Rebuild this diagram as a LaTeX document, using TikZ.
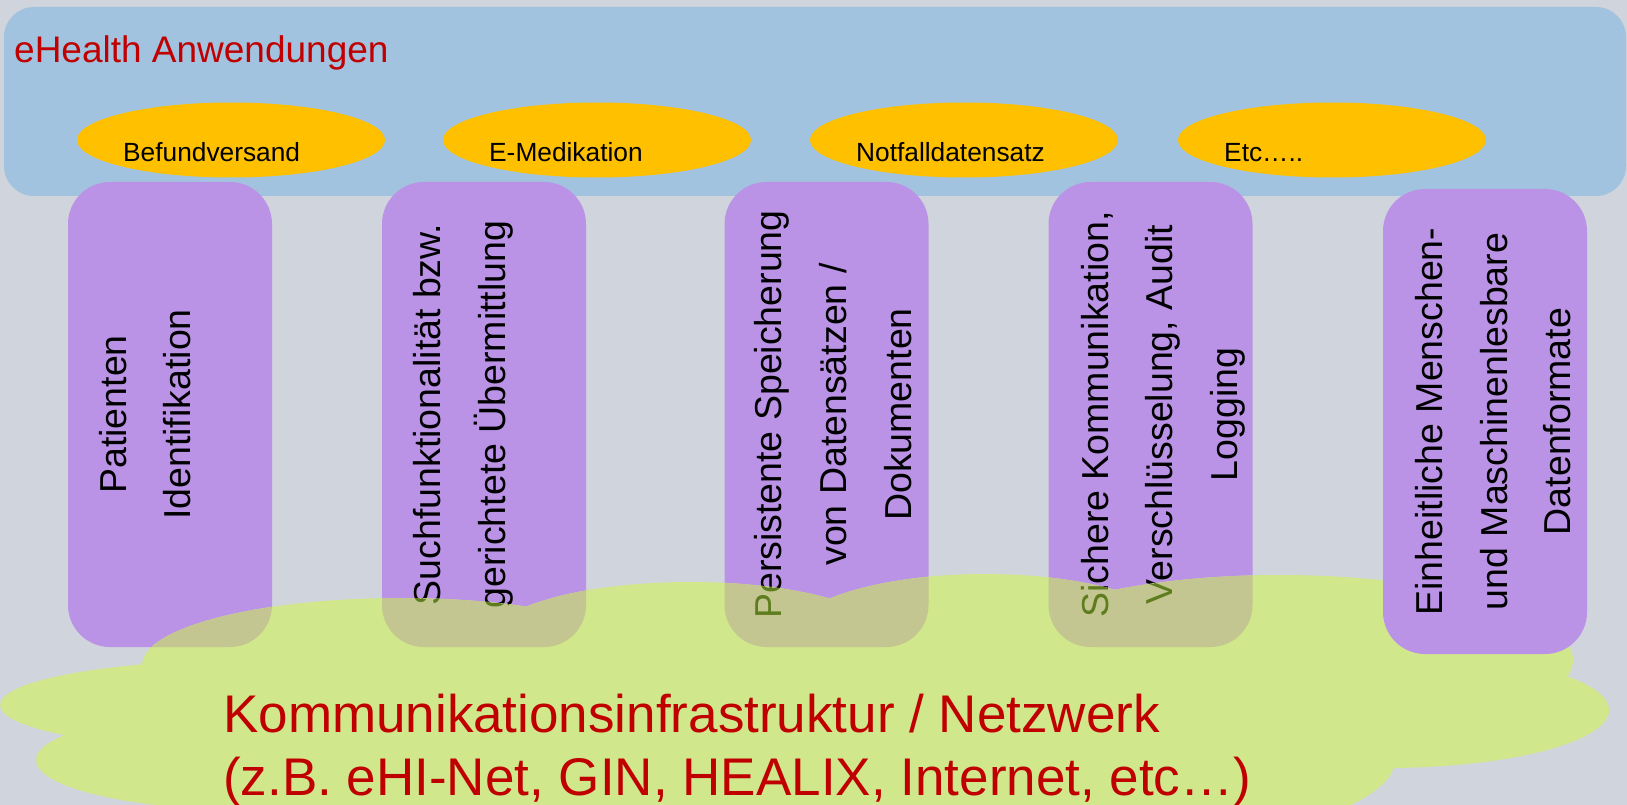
\documentclass[tikz,border=0pt]{standalone}
\usepackage{fontspec}
\setmainfont{Liberation Sans}
\usetikzlibrary{shapes.geometric}
\definecolor{bgcol}{HTML}{D0D4DC}
\definecolor{hblue}{HTML}{A1C3DF}
\definecolor{appyel}{HTML}{FFC000}
\definecolor{svcpur}{HTML}{BB93E6}
\definecolor{netgrn}{HTML}{D0E78B}
\definecolor{mixcol}{HTML}{C3C690}
\definecolor{olivetxt}{HTML}{5E7D1E}
\definecolor{titred}{HTML}{C00000}
\newcommand\cloudshape{%
 (400,665) ellipse [x radius=258pt, y radius=67pt]
 (690,640) ellipse [x radius=200pt, y radius=58pt]
 (985,640) ellipse [x radius=200pt, y radius=66pt]
 (1280,660) ellipse [x radius=293pt, y radius=85pt]
 (1385,710) ellipse [x radius=224pt, y radius=58pt]
 (250,705) ellipse [x radius=250pt, y radius=45pt]
 (250,760) ellipse [x radius=214pt, y radius=50pt]
 (785,760) ellipse [x radius=610pt, y radius=120pt]
}
\newcommand\svcboxes[2]{%
 \node[svcbox, fill=#1] (s1#2) at (170,414.5) {};
 \node[svcbox, fill=#1] (s2#2) at (484,414.5) {};
 \node[svcbox, fill=#1] (s3#2) at (826.5,414.5) {};
 \node[svcbox, fill=#1] (s4#2) at (1150.5,414.5) {};
}
\newcommand\svctexts[2]{%
 \node[svctext, text=#1] (l1a#2) at (126,414.5) {Patienten};
 \node[svctext, text=#1] (l1b#2) at (190,414.5) {Identifikation};
 \node[svctext, text=#1] (l2a#2) at (440,414.5) {Suchfunktionalität bzw.};
 \node[svctext, text=#1] (l2b#2) at (505,414.5) {gerichtete Übermittlung};
 \node[svctext, text=#1] (l3a#2) at (781,414.5) {Persistente Speicherung};
 \node[svctext, text=#1] (l3b#2) at (846.5,414.5) {von Datensätzen /};
 \node[svctext, text=#1] (l3c#2) at (911.5,414.5) {Dokumenten};
 \node[svctext, text=#1] (l4a#2) at (1108,414.5) {Sichere Kommunikation,};
 \node[svctext, text=#1] (l4b#2) at (1172,414.5) {Verschlüsselung, Audit};
 \node[svctext, text=#1] (l4c#2) at (1237,414.5) {Logging};
}
\begin{document}
\begin{tikzpicture}[x=1pt,y=-1pt,
  panel/.style={fill=hblue, rounded corners=30pt, minimum width=1622pt, minimum height=189pt, inner sep=0pt},
  appell/.style={ellipse, fill=appyel, minimum width=308pt, minimum height=75pt, inner sep=0pt},
  apptext/.style={anchor=base west, inner sep=0pt, font=\fontsize{26.3}{31}\selectfont},
  svcbox/.style={rounded corners=42pt, minimum width=204pt, minimum height=465pt, inner sep=0pt},
  svctext/.style={rotate=90, anchor=base, inner sep=0pt, font=\fontsize{37.5}{45}\selectfont},
  titletext/.style={anchor=base west, inner sep=0pt, text=titred, font=\fontsize{37}{44}\selectfont},
  nettext/.style={anchor=base west, inner sep=0pt, text=titred, font=\fontsize{53}{63}\selectfont}]
\useasboundingbox (0,0) rectangle (1627,805);
\fill[bgcol] (0,0) rectangle (1627,805);
% application panel
\node[panel] (apps) at (815,101.5) {};
\node[titletext] (title) at (14,63) {eHealth Anwendungen};
\node[appell] (e1) at (231,140) {};
\node[appell] (e2) at (597,140) {};
\node[appell] (e3) at (964,140) {};
\node[appell] (e4) at (1332,140) {};
\node[apptext] (a1) at (123,162) {Befundversand};
\node[apptext] (a2) at (489,162) {E-Medikation};
\node[apptext] (a3) at (856,162) {Notfalldatensatz};
\node[apptext] (a4) at (1224,162) {Etc…..};
% service boxes behind the network
\svcboxes{svcpur}{}
\svctexts{black}{}
% network cloud
\fill[netgrn] \cloudshape;
\begin{scope}
 \clip \cloudshape;
 \svcboxes{mixcol}{x}
 \svctexts{olivetxt}{x}
\end{scope}
\node[nettext] (n1) at (223,732) {Kommunikationsinfrastruktur / Netzwerk};
\node[nettext] (n2) at (223,795) {(z.B. eHI-Net, GIN, HEALIX, Internet, etc…)};
% data formats box in front
\node[svcbox, fill=svcpur] (s5) at (1485,421.5) {};
\node[svctext] (l5a) at (1442,421.5) {Einheitliche Menschen-};
\node[svctext] (l5b) at (1507,421.5) {und Maschinenlesbare};
\node[svctext] (l5c) at (1570,421.5) {Datenformate};
\end{tikzpicture}
\end{document}
